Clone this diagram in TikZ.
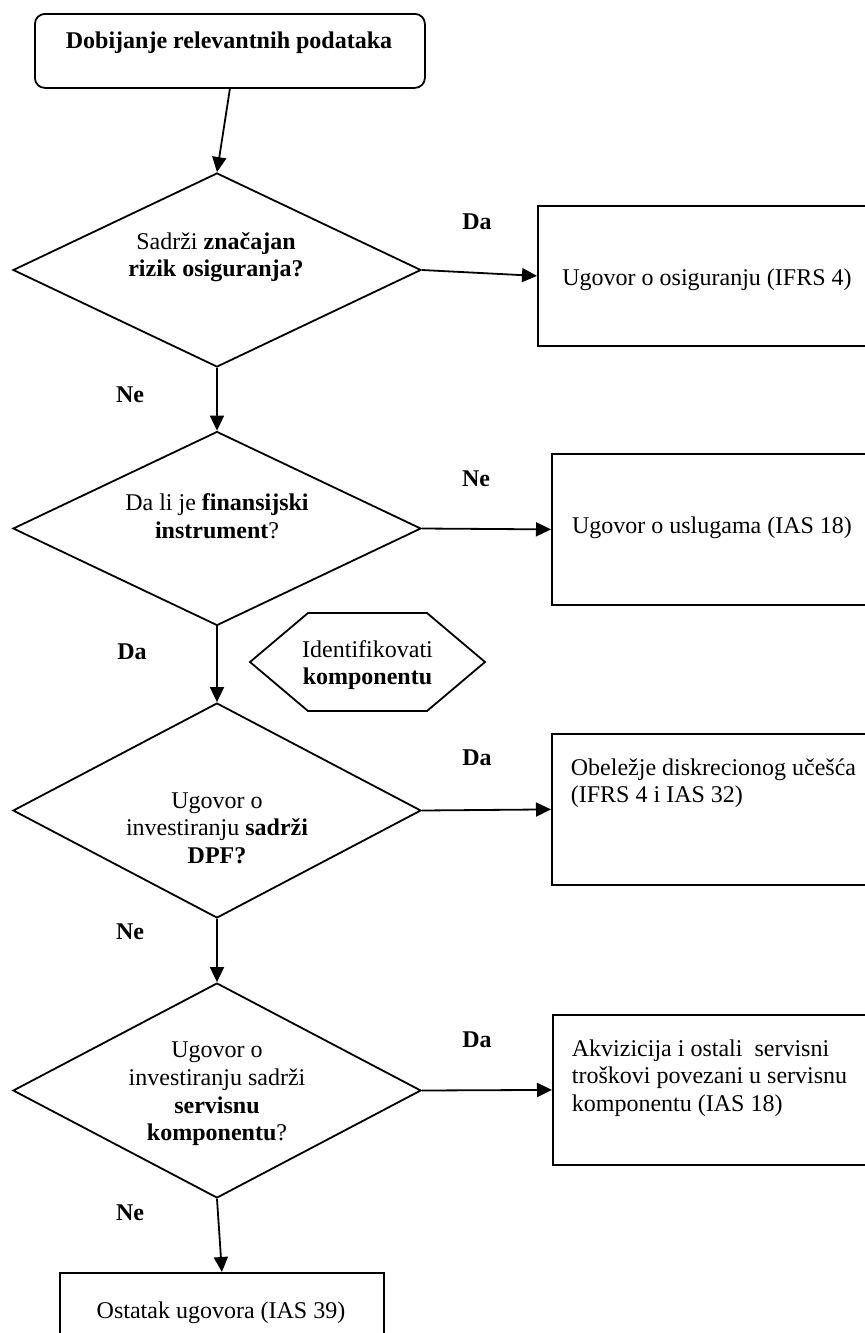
\documentclass[tikz,border=0pt]{standalone}
\usepackage{fontspec}
\setmainfont{Liberation Serif}
\usetikzlibrary{positioning}
\usetikzlibrary{arrows.meta}
\usetikzlibrary{shapes.geometric}

\begin{document}
\begin{tikzpicture}[x=0.5pt, y=-0.5pt, line width=0.9pt,
  every node/.style={font=\fontsize{12}{13.8}\selectfont, inner sep=0pt},
  decision/.style={draw, diamond, minimum width=204pt, minimum height=97pt},
  bigdecision/.style={decision, minimum height=107.5pt},
  outcome/.style={draw, rectangle, anchor=north west, minimum width=165pt, minimum height=75.5pt},
  answer/.style={font=\fontsize{12}{13.8}\selectfont\bfseries},
  flow/.style={-{Triangle[length=7.5pt, width=7pt]}}]

\useasboundingbox (0,0) rectangle (865,1333);

% start
\node[draw, rounded corners=5pt, anchor=north west, minimum width=195pt, minimum height=37pt] (start) at (34,13) {};
\node[answer] (start-t) at (229,43) {Dobijanje relevantnih podataka};

% decisions
\node[decision] (d1) at (217,270) {};
\node[align=center] (d1-t) at (216,257) {Sadrži \textbf{značajan}\\\textbf{rizik osiguranja?}};
\node[decision] (d2) at (217,528.5) {};
\node[align=center] (d2-t) at (217,516) {Da li je \textbf{finansijski}\\\textbf{instrument}?};
\node[bigdecision] (d3) at (217,810.5) {};
\node[align=center] (d3-t) at (217,828) {Ugovor o\\investiranju \textbf{sadrži}\\\textbf{DPF?}};
\node[bigdecision] (d4) at (217,1090.5) {};
\node[align=center] (d4-t) at (217,1094) {Ugovor o\\investiranju sadrži\\\textbf{servisnu}\\\textbf{komponentu}?};

% outcomes
\node[outcome, minimum width=172pt, minimum height=70pt] (o1) at (537,205) {};
\node (o1-t) at (707,280) {Ugovor o osiguranju (IFRS 4)};
\node[outcome] (o2) at (551,453) {};
\node (o2-t) at (712,528) {Ugovor o uslugama (IAS 18)};
\node[outcome] (o3) at (551,733) {};
\node[anchor=west, align=left] (o3-t) at (570,783) {Obeležje diskrecionog učešća\\(IFRS 4 i IAS 32)};
\node[outcome, minimum height=75pt] (o4) at (552,1014) {};
\node[anchor=west, align=left] (o4-t) at (571,1078) {Akvizicija i ostali\ \ servisni\\troškovi povezani u servisnu\\komponentu (IAS 18)};
\node[outcome, minimum width=162pt, minimum height=45pt] (rest) at (59,1272) {};
\node (rest-t) at (221,1313) {Ostatak ugovora (IAS 39)};

% hexagon
\draw (250,662) -- (308,613) -- (427,613) -- (485,662) -- (427,711) -- (308,711) -- cycle;
\node[align=center] (ident) at (367.5,665) {Identifikovati\\\textbf{komponentu}};

% answers
\node[answer] (l1) at (477,222) {Da};
\node[answer] (l2) at (130,395) {Ne};
\node[answer] (l3) at (476,479) {Ne};
\node[answer] (l4) at (132,652) {Da};
\node[answer] (l5) at (477,758) {Da};
\node[answer] (l6) at (130,932) {Ne};
\node[answer] (l7) at (477,1040) {Da};
\node[answer] (l8) at (130,1213) {Ne};

\draw[flow] (start.south) -- (d1.north);
\draw[flow] (d1.east) -- (o1.west);
\draw[flow] (d1.south) -- (d2.north);
\draw[flow] (d2.east) -- (o2.west);
\draw[flow] (d2.south) -- (d3.north);
\draw[flow] (d3.east) -- (o3.west);
\draw[flow] (d3.south) -- (d4.north);
\draw[flow] (d4.east) -- (o4.west);
\draw[flow] (d4.south) -- (rest.north);

\end{tikzpicture}
\end{document}
